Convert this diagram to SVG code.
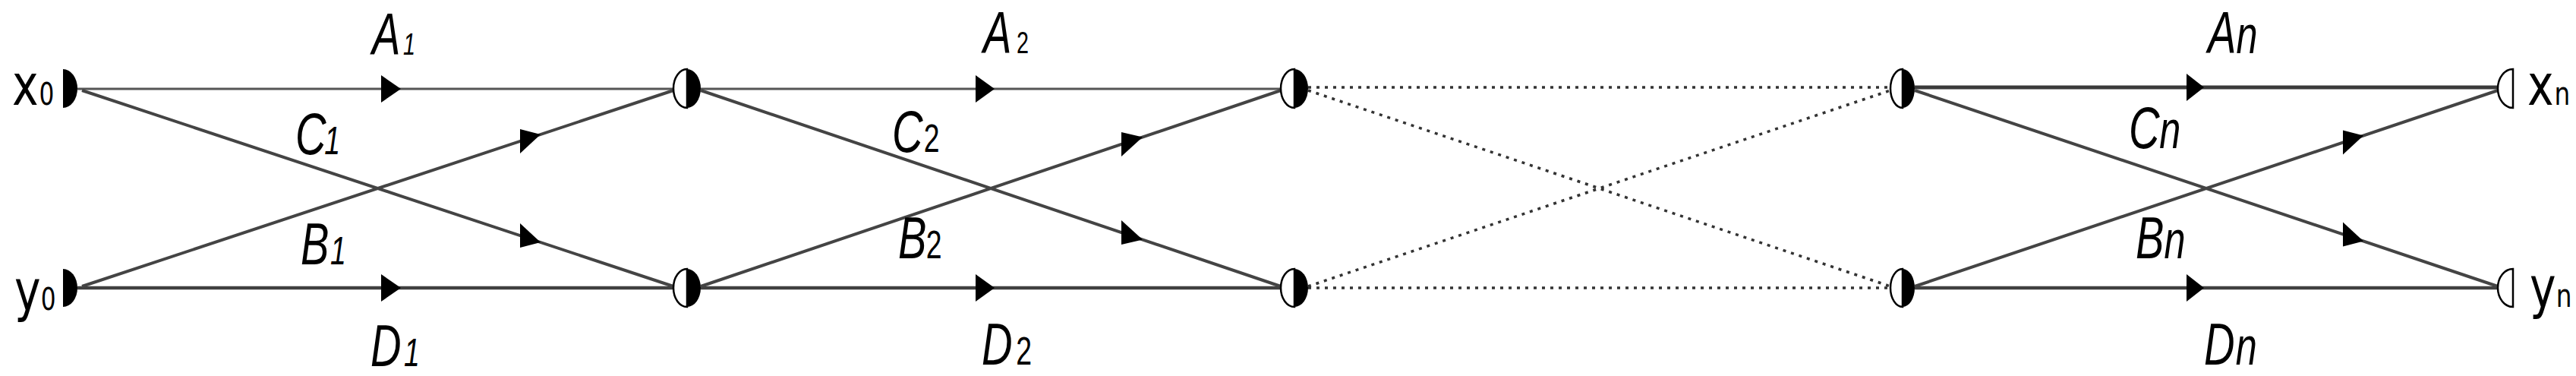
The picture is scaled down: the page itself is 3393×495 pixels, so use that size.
<svg xmlns="http://www.w3.org/2000/svg" width="3393" height="495" viewBox="0 0 3393 495">
<style>
.bg{fill:#fff}
.hl{stroke:#555;stroke-width:3;fill:none}
.ln{stroke:#404040;stroke-width:4.5;fill:none}
.dg{stroke:#444;stroke-width:4;fill:none}
.hn{stroke:#3a3a3a;stroke-width:5;fill:none}
.dot{stroke:#333;stroke-width:3.5;stroke-dasharray:4 7;fill:none}
.ah{fill:#000}
.hb{fill:#000}
.hw{fill:#fff;stroke:#000;stroke-width:2.5}
.lab{font-family:"Liberation Sans",Arial,sans-serif;font-style:italic;font-size:78px;fill:#000}
.s40{font-size:40px}
.s52{font-size:52px}
.up{font-style:normal}
.sn{font-size:70px}
.io{font-family:"DejaVu Sans",Verdana,sans-serif;font-size:75px;fill:#000}
.s38{font-size:40px}
.s42{font-size:42px}
</style>
<rect class="bg" x="0" y="0" width="3393" height="495"/>

<g id="connectors">
  <!-- stage 1 -->
  <path class="hl" d="M102,117 H887"/>
  <path class="ln" d="M102,379 H887"/>
  <path class="dg" d="M108,119 L887,377"/>
  <path class="dg" d="M108,377 L887,119"/>
  <!-- stage 2 -->
  <path class="hl" d="M923,117 H1687"/>
  <path class="ln" d="M923,379 H1687"/>
  <path class="dg" d="M923,119 L1687,377"/>
  <path class="dg" d="M923,377 L1687,119"/>
  <!-- dotted intermediate stages -->
  <path class="dot" d="M1723,115 H2490"/>
  <path class="dot" d="M1723,379 H2490"/>
  <path class="dot" d="M1723,119 L2490,377"/>
  <path class="dot" d="M1723,377 L2490,119"/>
  <!-- stage n -->
  <path class="hn" d="M2522,115 H3290"/>
  <path class="ln" d="M2522,379 H3290"/>
  <path class="dg" d="M2522,119 L3290,377"/>
  <path class="dg" d="M2522,377 L3290,119"/>
  <!-- arrowheads -->
  <polygon class="ah" points="502,99 528,117 502,135"/>
  <polygon class="ah" points="502,361 528,379 502,397"/>
  <polygon class="ah" points="685,170 712,177 685,202"/>
  <polygon class="ah" points="685,294 712,319 685,326"/>
  <polygon class="ah" points="1285,99 1310,117 1285,135"/>
  <polygon class="ah" points="1285,361 1310,379 1285,397"/>
  <polygon class="ah" points="1477,174 1505,180.5 1477,206"/>
  <polygon class="ah" points="1477,290 1505,315.5 1477,322"/>
  <polygon class="ah" points="2880,97 2903,115 2880,133"/>
  <polygon class="ah" points="2880,361 2903,379 2880,397"/>
  <polygon class="ah" points="3086,171.5 3113,178.5 3086,203.5"/>
  <polygon class="ah" points="3086,292.5 3113,317.5 3086,324.5"/>
</g>

<g id="edge-labels">
  <text class="lab" transform="translate(490,72) scale(0.72,1)">A<tspan class="s40" x="57">1</tspan></text>
  <text class="lab" transform="translate(389,203) scale(0.72,1)">C<tspan class="s52" x="53">1</tspan></text>
  <text class="lab" transform="translate(396,348) scale(0.72,1)">B<tspan class="s52" x="54">1</tspan></text>
  <text class="lab" transform="translate(488,482) scale(0.72,1)">D<tspan class="s52" x="61">1</tspan></text>
  <text class="lab" transform="translate(1295,70) scale(0.72,1)">A<tspan class="s40 up" x="61">2</tspan></text>
  <text class="lab" transform="translate(1175,200) scale(0.72,1)">C<tspan class="s52 up" x="58">2</tspan></text>
  <text class="lab" transform="translate(1183,340) scale(0.72,1)">B<tspan class="s52 up" x="51">2</tspan></text>
  <text class="lab" transform="translate(1293,480) scale(0.72,1)">D<tspan class="s52 up" x="63">2</tspan></text>
  <text class="lab" transform="translate(2908,70) scale(0.72,1)">A<tspan class="sn" x="52">n</tspan></text>
  <text class="lab" transform="translate(2804,195) scale(0.72,1)">C<tspan class="sn" x="56">n</tspan></text>
  <text class="lab" transform="translate(2813,340) scale(0.72,1)">B<tspan class="sn" x="52">n</tspan></text>
  <text class="lab" transform="translate(2903,480) scale(0.72,1)">D<tspan class="sn" x="58">n</tspan></text>
</g>

<g id="x0">
  <path class="hb" d="M83,91 A19,25.5 0 0 1 83,142 Z"/>
  <text class="io" transform="translate(16,138) scale(0.78,1)">x<tspan class="s38" dx="1">0</tspan></text>
</g>
<g id="y0">
  <path class="hb" d="M83,354 A19,25 0 0 1 83,404 Z"/>
  <text class="io" transform="translate(19,408) scale(0.78,1)">y<tspan class="s38" dx="0">0</tspan></text>
</g>

<g id="n1-top">
  <path class="hw" d="M905,91 A18,25.5 0 0 0 905,142 Z"/>
  <path class="hb" d="M905,91 A18,25.5 0 0 1 905,142 Z"/>
</g>
<g id="n1-bottom">
  <path class="hw" d="M905,354 A18,25 0 0 0 905,404 Z"/>
  <path class="hb" d="M905,354 A18,25 0 0 1 905,404 Z"/>
</g>
<g id="n2-top">
  <path class="hw" d="M1705,91 A18,25.5 0 0 0 1705,142 Z"/>
  <path class="hb" d="M1705,91 A18,25.5 0 0 1 1705,142 Z"/>
</g>
<g id="n2-bottom">
  <path class="hw" d="M1705,354 A18,25 0 0 0 1705,404 Z"/>
  <path class="hb" d="M1705,354 A18,25 0 0 1 1705,404 Z"/>
</g>
<g id="n3-top">
  <path class="hw" d="M2506,91 A16,25.5 0 0 0 2506,142 Z"/>
  <path class="hb" d="M2506,91 A16,25.5 0 0 1 2506,142 Z"/>
</g>
<g id="n3-bottom">
  <path class="hw" d="M2506,354 A16,25 0 0 0 2506,404 Z"/>
  <path class="hb" d="M2506,354 A16,25 0 0 1 2506,404 Z"/>
</g>

<g id="xn">
  <path class="hw" d="M3310,91 A20,25.5 0 0 0 3310,142 Z"/>
  <text class="io" transform="translate(3329,138) scale(0.78,1)">x<tspan class="s42" dx="1">n</tspan></text>
</g>
<g id="yn">
  <path class="hw" d="M3310,354 A20,25 0 0 0 3310,404 Z"/>
  <text class="io" transform="translate(3332,404) scale(0.78,1)">y<tspan class="s42" dx="0">n</tspan></text>
</g>
</svg>
